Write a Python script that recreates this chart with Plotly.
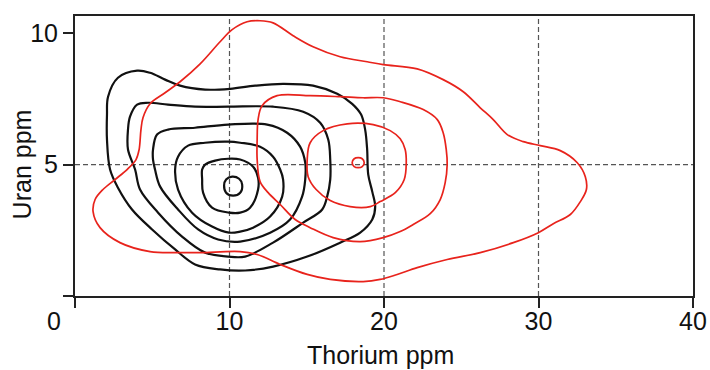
import plotly.graph_objects as go

# Thorium (x) / uranium (y) density contours, two sample groups.
# Each contour is a closed polyline: th_* holds thorium ppm, ur_* uranium ppm.

# Group A (black), outermost to innermost
th_black = [
    [2.14, 2.78, 4.02, 4.86, 5.83, 6.80, 8.42, 10.04, 11.66, 13.47, 15.41, 16.97, 17.94, 18.52, 18.78, 18.91,
     18.98, 19.24, 19.43, 19.24, 18.46, 17.16, 15.03, 12.82, 11.01, 9.39, 7.77, 6.48, 4.99, 3.69, 2.78, 2.27, 2.07, 2.07],
    [3.56, 4.02, 4.73, 6.02, 7.77, 9.91, 12.82, 14.77, 15.87, 16.39, 16.52, 16.52, 16.32, 16.00, 14.77, 12.82,
     11.01, 9.91, 8.42, 6.93, 5.38, 4.21, 3.89, 3.43, 3.43],
    [5.05, 5.31, 6.02, 7.77, 9.91, 12.44, 13.73, 14.57, 14.90, 14.90, 14.70, 13.92, 12.63, 10.69, 9.26, 7.97,
     6.67, 5.51, 5.18, 5.05],
    [6.67, 7.32, 8.42, 9.91, 10.69, 11.98, 12.82, 13.28, 13.47, 13.41, 12.63, 11.53, 10.69, 9.97, 8.87, 7.58,
     6.67, 6.48],
    [8.23, 8.42, 9.07, 9.91, 10.69, 11.53, 11.85, 11.85, 11.33, 10.69, 9.97, 8.87, 8.29, 8.23],
    [9.65, 9.78, 10.17, 10.62, 10.82, 10.69, 10.23, 9.78],
]
ur_black = [
    [7.58, 8.30, 8.57, 8.49, 8.23, 8.00, 7.85, 7.88, 8.00, 8.07, 8.00, 7.69, 7.31, 6.90, 6.33, 5.57,
     4.62, 3.97, 3.40, 2.91, 2.41, 2.03, 1.50, 1.12, 0.97, 1.01, 1.20, 1.77, 2.53, 3.29, 4.12, 4.81, 5.95, 6.90],
    [6.82, 7.28, 7.35, 7.28, 7.20, 7.20, 7.20, 7.01, 6.59, 5.95, 5.19, 4.43, 3.78, 3.29, 2.79, 2.03,
     1.50, 1.50, 1.65, 2.26, 3.17, 4.05, 4.81, 5.57, 6.33],
    [5.57, 6.14, 6.33, 6.40, 6.52, 6.52, 6.21, 5.68, 5.07, 4.43, 3.78, 2.91, 2.41, 2.07, 2.15, 2.53,
     3.29, 4.16, 4.81, 5.19],
    [5.30, 5.72, 5.83, 5.87, 5.83, 5.68, 5.30, 4.81, 4.43, 3.78, 3.02, 2.60, 2.45, 2.41, 2.64, 3.17,
     4.05, 4.81],
    [4.81, 5.00, 5.15, 5.22, 5.19, 4.92, 4.50, 4.05, 3.36, 3.17, 3.17, 3.36, 3.93, 4.43],
    [4.20, 4.43, 4.54, 4.46, 4.24, 3.93, 3.82, 3.93],
]

# Group B (red), outermost to innermost
th_red = [
    [1.17, 1.30, 1.81, 2.59, 3.37, 3.95, 4.15, 4.27, 4.40, 4.86, 5.83, 6.80, 8.10, 9.39, 10.17, 11.14,
     11.98, 12.82, 14.12, 15.41, 17.16, 18.91, 19.95, 22.15, 23.83, 25.13, 26.23, 27.07, 27.98, 29.02,
     30.12, 31.41, 32.51, 33.03, 33.10, 32.71, 32.06, 30.96, 29.99, 28.37, 26.23, 24.09, 22.15, 20.85,
     19.75, 18.65, 16.52, 15.03, 13.28, 11.79, 10.69, 8.10, 6.61, 4.86, 2.91, 1.62],
    [11.85, 12.11, 13.08, 15.22, 17.16, 18.65, 19.95, 21.05, 22.54, 23.45, 23.83, 24.03, 24.09, 23.96,
     23.64, 22.99, 21.89, 21.05, 19.95, 18.46, 16.71, 15.22, 14.25, 13.28, 12.50, 11.98, 11.79, 11.79],
    [15.03, 15.22, 16.06, 17.62, 19.30, 20.40, 21.05, 21.37, 21.44, 21.31, 20.73, 19.75, 19.11, 17.81,
     16.52, 15.61, 15.09],
    [17.94, 18.07, 18.33, 18.59, 18.72, 18.59, 18.33, 18.07],
]
ur_red = [
    [3.21, 3.67, 4.05, 4.43, 4.81, 5.19, 5.57, 6.33, 6.78, 7.31, 7.73, 8.15, 8.83, 9.67, 10.13, 10.43,
     10.47, 10.39, 9.90, 9.48, 9.10, 8.91, 8.80, 8.64, 8.23, 7.77, 7.16, 6.71, 6.14, 5.87,
     5.72, 5.53, 5.07, 4.54, 4.05, 3.59, 3.10, 2.75, 2.41, 2.03, 1.65, 1.39, 1.08, 0.82,
     0.63, 0.55, 0.63, 0.82, 1.20, 1.58, 1.69, 1.65, 1.65, 1.69, 2.03, 2.60],
    [6.71, 7.24, 7.62, 7.62, 7.58, 7.54, 7.54, 7.39, 7.09, 6.71, 6.21, 5.57, 5.00, 4.31,
     3.67, 3.13, 2.72, 2.45, 2.22, 2.07, 2.22, 2.60, 2.91, 3.48, 3.93, 4.35, 5.19, 5.95],
    [5.19, 5.83, 6.29, 6.55, 6.52, 6.29, 5.98, 5.57, 5.07, 4.43, 3.93, 3.59, 3.40, 3.40,
     3.63, 4.05, 4.54],
    [5.07, 5.22, 5.26, 5.22, 5.07, 4.92, 4.88, 4.92],
]

x_ticks = [0, 10, 20, 30, 40]
y_ticks = [0, 5, 10]
y_ticktext = ["", "5", "10"]
grid_x = [10, 20, 30]
grid_y = [5]

FONT = "Liberation Sans, Arial, sans-serif"
FONT_SIZE = 25
AXIS_COLOR = "#222222"
GRID_COLOR = "#555555"
BLACK = "#111111"
RED = "#e8231c"

fig = go.Figure()


def add_loops(xs_list, ys_list, color, width):
    for xs, ys in zip(xs_list, ys_list):
        fig.add_trace(go.Scatter(
            x=list(xs) + [xs[0]], y=list(ys) + [ys[0]],
            mode="lines",
            line=dict(color=color, width=width, shape="spline", smoothing=1.0),
            hoverinfo="skip", showlegend=False,
        ))


add_loops(th_black, ur_black, BLACK, 2.2)
add_loops(th_red, ur_red, RED, 1.7)

# dashed reference lines
for gx in grid_x:
    fig.add_shape(type="line", xref="x", yref="paper", x0=gx, x1=gx, y0=0, y1=1,
                  line=dict(color=GRID_COLOR, width=1.2, dash="5px,3px"), layer="below")
for gy in grid_y:
    fig.add_shape(type="line", xref="paper", yref="y", x0=0, x1=1, y0=gy, y1=gy,
                  line=dict(color=GRID_COLOR, width=1.2, dash="5px,3px"), layer="below")

axis_common = dict(
    showline=True, linewidth=2, linecolor=AXIS_COLOR, mirror=True,
    ticks="outside", ticklen=10, tickwidth=2, tickcolor=AXIS_COLOR,
    showgrid=False, zeroline=False,
    tickfont=dict(family=FONT, size=FONT_SIZE, color="#111111"),
)

fig.update_layout(
    width=710, height=370,
    margin=dict(l=75, r=17, t=16, b=74, autoexpand=False),
    paper_bgcolor="white", plot_bgcolor="white",
    xaxis=dict(range=[0, 40], tickvals=x_ticks, ticktext=[""] + [str(v) for v in x_ticks[1:]],
               ticklabelstandoff=-8, **axis_common),
    yaxis=dict(range=[0, 10.65], tickvals=y_ticks, ticktext=y_ticktext, **axis_common),
    annotations=[
        dict(text="0", x=0, y=0, xref="x", yref="y", xanchor="right", yanchor="top",
             xshift=-12, yshift=-9, showarrow=False,
             font=dict(family=FONT, size=FONT_SIZE, color="#111111")),
        dict(text="Thorium ppm", x=0.494, y=0, xref="paper", yref="paper",
             xanchor="center", yanchor="middle", yshift=-59, showarrow=False,
             font=dict(family=FONT, size=FONT_SIZE, color="#111111")),
        dict(text="Uran ppm", x=0, y=0.47, xref="paper", yref="paper", textangle=-90,
             xanchor="center", yanchor="middle", xshift=-53, showarrow=False,
             font=dict(family=FONT, size=FONT_SIZE, color="#111111")),
    ],
)

fig.write_html("out.html")
